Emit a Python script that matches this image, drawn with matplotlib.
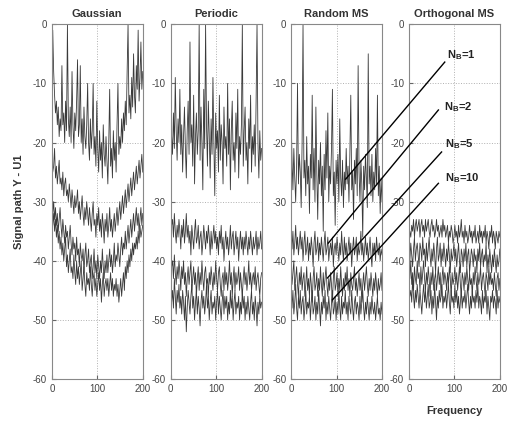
import numpy as np
import matplotlib
matplotlib.use("Agg")
import matplotlib.pyplot as plt

plt.rcParams['font.family'] = ['Liberation Sans', 'DejaVu Sans']
plt.rcParams['axes.unicode_minus'] = False
plt.rcParams['mathtext.fontset'] = 'custom'
plt.rcParams['mathtext.rm'] = 'Liberation Sans'
plt.rcParams['mathtext.bf'] = 'Liberation Sans:bold'

titles = ['Gaussian', 'Periodic', 'Random MS', 'Orthogonal MS']
nb_labels = ['1', '2', '5', '10']

# Gaussian (N_B = 1, 2, 5, 10), 100 samples over 0..200
G1 = [-5, -1, -8, -12, -15, -13, -17, -14, -19, -16,
      -18, -7, -17, -15, -20, -13, -18, 0, -16, -19,
      -14, -20, -8, -17, -21, -15, -18, -13, -6, -19,
      -17, -7, -20, -16, -22, -14, -19, -21, -17, -10,
      -20, -23, -16, -21, -18, -10, -22, -19, -24, -13,
      -21, -25, -18, -23, -20, -26, -17, -22, -24, -19,
      -23, -27, -20, -11, -24, -21, -26, -18, -23, -20,
      -25, -17, -10, -22, -19, -21, -16, -20, -15, -18,
      -13, -17, -8, 0, -15, -12, -16, -9, -14, -5,
      -12, -15, -7, -11, -1, -13, -9, -3, -11, -8]
G2 = [-22, -25, -24, -21, -26, -24, -27, -25, -23, -27,
      -26, -28, -25, -29, -27, -26, -29, -28, -30, -27,
      -29, -31, -28, -30, -32, -29, -31, -30, -28, -32,
      -30, -33, -31, -29, -32, -34, -31, -33, -30, -32,
      -34, -31, -33, -35, -32, -30, -34, -33, -36, -32,
      -34, -31, -35, -33, -36, -32, -34, -37, -33, -35,
      -32, -36, -34, -31, -35, -33, -36, -34, -32, -35,
      -33, -31, -34, -32, -30, -33, -31, -29, -32, -30,
      -28, -31, -29, -27, -30, -28, -26, -29, -27, -25,
      -28, -26, -24, -27, -25, -23, -26, -24, -22, -25]
G3 = [-29, -32, -30, -33, -31, -34, -32, -35, -33, -31,
      -34, -36, -33, -35, -37, -34, -36, -35, -38, -36,
      -34, -37, -39, -36, -38, -37, -40, -36, -39, -38,
      -41, -37, -39, -40, -38, -42, -39, -37, -41, -40,
      -38, -42, -40, -39, -43, -41, -38, -42, -40, -43,
      -39, -41, -43, -40, -42, -38, -41, -43, -40, -42,
      -39, -42, -40, -38, -41, -39, -42, -40, -37, -41,
      -39, -40, -37, -39, -41, -38, -36, -39, -37, -38,
      -35, -38, -36, -34, -37, -35, -33, -36, -34, -32,
      -35, -33, -31, -34, -32, -35, -33, -31, -34, -32]
G4 = [-31, -34, -32, -35, -33, -36, -34, -37, -35, -38,
      -36, -39, -37, -40, -38, -36, -41, -39, -42, -40,
      -38, -42, -41, -43, -39, -42, -44, -40, -43, -41,
      -44, -42, -40, -45, -43, -41, -44, -46, -42, -44,
      -43, -45, -41, -44, -46, -43, -42, -45, -43, -46,
      -44, -42, -45, -43, -47, -44, -42, -46, -44, -43,
      -45, -43, -46, -44, -42, -45, -43, -46, -44, -45,
      -43, -46, -44, -47, -45, -43, -46, -44, -42, -45,
      -41, -43, -40, -42, -39, -41, -38, -40, -37, -39,
      -37, -38, -36, -38, -35, -37, -34, -36, -35, -34]

# Periodic
P1 = [-24, -19, -22, -15, -21, -9, -18, -23, -16, -20,
      -11, -22, -17, -25, -19, -14, -21, -26, -18, -13,
      -22, -3, -20, -17, -24, -12, -27, -19, -15, -22,
      -18, 0, -23, -14, -20, -28, -11, -21, 0, -17,
      -24, -13, -19, -26, -16, -22, -9, -20, -29, -15,
      -21, -18, -25, -12, -23, -17, -20, -27, -14, -21,
      -19, -24, -10, -22, -16, -28, -18, -13, -23, -20,
      -25, -15, -21, -11, -26, -19, -22, -17, 0, -24,
      -18, -14, -23, -20, -27, -16, -21, -12, -25, -19,
      -22, -17, -24, -13, 0, -20, -26, -18, -23, -21]
P2 = [-31, -34, -33, -36, -32, -35, -37, -34, -36, -33,
      -35, -38, -34, -36, -33, -37, -35, -32, -36, -34,
      -37, -35, -39, -34, -36, -38, -35, -33, -37, -36,
      -34, -38, -36, -35, -39, -37, -34, -36, -38, -35,
      -37, -34, -36, -39, -35, -38, -36, -34, -37, -35,
      -38, -36, -39, -35, -37, -34, -38, -36, -40, -37,
      -35, -38, -36, -39, -37, -34, -38, -36, -35, -39,
      -37, -35, -38, -36, -40, -37, -35, -38, -36, -39,
      -36, -38, -35, -37, -39, -36, -38, -35, -37, -39,
      -36, -38, -37, -35, -39, -36, -38, -37, -35, -38]
P3 = [-38, -41, -40, -43, -39, -42, -44, -41, -43, -40,
      -42, -45, -41, -43, -40, -44, -42, -46, -43, -41,
      -44, -42, -40, -45, -43, -41, -44, -42, -46, -43,
      -41, -45, -42, -44, -40, -43, -45, -42, -41, -44,
      -43, -46, -42, -44, -41, -43, -45, -42, -44, -40,
      -43, -45, -42, -41, -44, -46, -43, -42, -45, -41,
      -44, -42, -45, -43, -40, -44, -42, -46, -43, -41,
      -45, -42, -44, -43, -41, -45, -42, -44, -46, -43,
      -41, -44, -42, -45, -43, -40, -44, -42, -45, -43,
      -42, -44, -41, -45, -43, -42, -44, -46, -43, -42]
P4 = [-44, -47, -45, -48, -43, -46, -49, -45, -47, -44,
      -48, -46, -49, -45, -47, -50, -46, -52, -48, -45,
      -47, -49, -46, -44, -48, -46, -50, -47, -45, -49,
      -46, -48, -51, -47, -45, -48, -46, -49, -47, -44,
      -48, -46, -50, -47, -45, -49, -47, -48, -46, -50,
      -47, -45, -49, -46, -48, -50, -47, -45, -49, -46,
      -48, -46, -50, -47, -49, -45, -48, -46, -50, -47,
      -45, -49, -47, -48, -46, -50, -47, -49, -45, -48,
      -46, -50, -47, -49, -46, -48, -50, -47, -45, -49,
      -47, -50, -46, -48, -51, -47, -49, -46, -48, -47]

# Random MS
R1 = [-15, -23, -28, -21, -26, -30, -24, -10, -27, -22,
      -25, -31, -20, 0, -26, -23, -29, -19, -27, -24,
      -32, -22, -26, -12, -28, -21, -30, -14, -25, -33,
      -23, -27, -20, -29, -24, -35, -22, -28, -18, -26,
      -15, -30, -24, -27, -21, -11, -29, -25, -34, -23,
      -27, -22, -30, -16, -26, -29, -23, -31, -25, -28,
      -21, -27, -24, -30, -22, -12, -28, -25, -33, -23,
      -27, -21, -29, -7, -25, -30, -23, -27, -36, -24,
      -28, -22, -26, -31, -5, -27, -24, -29, -22, -30,
      -25, -28, -21, -27, -12, -29, -24, -32, -26, -30]
R2 = [-36, -38, -35, -39, -37, -34, -38, -36, -39, -37,
      -35, -38, -36, -40, -37, -35, -39, -38, -36, -40,
      -37, -39, -36, -38, -41, -37, -35, -39, -38, -36,
      -40, -37, -39, -36, -38, -40, -37, -35, -39, -38,
      -36, -40, -38, -37, -39, -36, -41, -38, -37, -39,
      -36, -38, -40, -37, -39, -35, -38, -40, -36, -39,
      -37, -40, -38, -36, -39, -37, -41, -38, -36, -39,
      -38, -36, -40, -37, -39, -38, -35, -39, -37, -40,
      -38, -36, -39, -37, -40, -38, -36, -39, -41, -37,
      -39, -37, -40, -36, -38, -39, -37, -40, -38, -39]
R3 = [-41, -44, -42, -40, -45, -43, -41, -44, -46, -42,
      -44, -41, -45, -43, -42, -46, -44, -41, -45, -43,
      -46, -42, -44, -47, -43, -41, -45, -44, -42, -46,
      -43, -45, -41, -44, -46, -42, -45, -43, -41, -44,
      -46, -43, -45, -42, -44, -47, -43, -41, -45, -44,
      -42, -46, -43, -45, -41, -44, -46, -43, -45, -42,
      -44, -41, -45, -43, -46, -42, -44, -45, -43, -41,
      -45, -43, -46, -44, -42, -45, -43, -47, -44, -42,
      -45, -43, -41, -44, -46, -43, -45, -42, -44, -46,
      -43, -45, -42, -44, -46, -43, -45, -44, -42, -45]
R4 = [-46, -48, -45, -49, -47, -44, -48, -50, -46, -48,
      -45, -49, -47, -46, -50, -48, -45, -49, -47, -48,
      -46, -50, -47, -45, -49, -48, -46, -50, -47, -49,
      -45, -48, -51, -47, -49, -46, -48, -45, -50, -47,
      -49, -46, -48, -50, -47, -45, -49, -48, -46, -50,
      -47, -49, -45, -48, -50, -46, -49, -47, -48, -45,
      -49, -47, -50, -46, -48, -49, -45, -48, -50, -47,
      -46, -49, -47, -48, -50, -46, -49, -47, -45, -48,
      -50, -47, -49, -46, -48, -50, -47, -49, -46, -48,
      -49, -47, -50, -48, -46, -49, -48, -50, -47, -49]

# Orthogonal MS
O1 = [-37, -35, -36, -34, -35, -33, -36, -34, -33, -35,
      -34, -33, -36, -34, -33, -35, -34, -36, -33, -35,
      -34, -33, -35, -36, -34, -33, -35, -34, -36, -35,
      -33, -35, -34, -36, -35, -34, -36, -33, -35, -34,
      -36, -35, -34, -37, -35, -36, -34, -35, -37, -36,
      -34, -36, -35, -37, -34, -36, -35, -33, -36, -35,
      -37, -34, -36, -35, -37, -36, -34, -36, -35, -37,
      -35, -36, -34, -37, -36, -35, -37, -34, -36, -35,
      -37, -35, -36, -34, -37, -35, -36, -38, -35, -36,
      -34, -37, -35, -36, -38, -35, -36, -37, -35, -36]
O2 = [-38, -40, -37, -39, -41, -38, -36, -40, -38, -37,
      -39, -41, -37, -38, -40, -36, -39, -38, -41, -37,
      -40, -38, -36, -39, -41, -38, -40, -37, -39, -42,
      -38, -36, -40, -39, -37, -41, -38, -40, -37, -39,
      -41, -38, -40, -37, -39, -42, -38, -40, -39, -37,
      -40, -38, -41, -39, -37, -40, -42, -38, -39, -41,
      -38, -40, -37, -41, -39, -38, -42, -40, -38, -39,
      -41, -38, -40, -39, -42, -38, -40, -37, -41, -39,
      -38, -41, -39, -40, -37, -42, -39, -41, -38, -40,
      -42, -39, -41, -38, -40, -42, -39, -41, -40, -38]
O3 = [-41, -43, -40, -44, -42, -45, -41, -43, -44, -40,
      -43, -42, -45, -41, -44, -42, -40, -43, -45, -42,
      -44, -41, -43, -46, -42, -44, -41, -45, -43, -42,
      -45, -43, -41, -44, -42, -46, -43, -41, -44, -42,
      -43, -45, -42, -44, -41, -43, -46, -42, -44, -43,
      -41, -44, -42, -45, -43, -41, -44, -46, -42, -43,
      -45, -42, -44, -41, -43, -45, -42, -44, -43, -46,
      -42, -44, -41, -43, -45, -42, -44, -43, -41, -45,
      -43, -42, -44, -46, -42, -43, -45, -41, -44, -42,
      -44, -43, -45, -42, -44, -46, -43, -42, -45, -43]
O4 = [-44, -46, -45, -47, -43, -46, -48, -45, -47, -44,
      -46, -48, -45, -47, -49, -46, -44, -47, -45, -48,
      -46, -44, -48, -47, -45, -49, -46, -48, -44, -47,
      -50, -46, -48, -45, -47, -46, -44, -48, -46, -47,
      -45, -48, -46, -44, -47, -49, -45, -47, -46, -48,
      -44, -47, -45, -48, -46, -49, -47, -45, -48, -46,
      -47, -45, -48, -46, -44, -47, -49, -46, -48, -45,
      -47, -46, -48, -45, -47, -44, -48, -46, -47, -49,
      -45, -48, -46, -47, -45, -49, -46, -48, -50, -46,
      -47, -45, -48, -46, -47, -49, -45, -48, -46, -47]

panels = [[G1, G2, G3, G4], [P1, P2, P3, P4], [R1, R2, R3, R4], [O1, O2, O3, O4]]

# annotation geometry (data coords of the Random MS panel)
line_start_x = [338, 324, 331, 324]
line_start_y = [-6.4, -14.5, -21.6, -26.9]
line_end_x = [120, 82, 80, 91]
line_end_y = [-26.2, -37.0, -42.9, -46.6]
text_x = [342, 336, 338, 338]
text_y = [-5.3, -14.0, -20.3, -26.0]

fig = plt.figure(figsize=(5.08, 4.25), dpi=100)
lefts = [0.102, 0.336, 0.573, 0.805]
axes = []
for i, left in enumerate(lefts):
    ax = fig.add_axes([left, 0.108, 0.179, 0.835])
    for series in panels[i]:
        freq = np.linspace(0, 200, len(series))
        ax.plot(freq, series, color='#3a3a3a', lw=0.6)
    ax.set_xlim(0, 200)
    ax.set_ylim(-60, 0)
    ax.set_xticks([0, 100, 200])
    ax.set_yticks(range(-60, 1, 10))
    ax.grid(True, linestyle=':', color='#b0b0b0', lw=0.7)
    ax.tick_params(direction='in', length=3, labelsize=7, colors='#666666', labelcolor='#444444')
    for sp in ax.spines.values():
        sp.set_color('#888888')
        sp.set_linewidth(0.8)
    ax.set_title(titles[i], fontsize=8, fontweight='bold', color='#333333', pad=5)
    axes.append(ax)

axes[0].set_ylabel('Signal path Y - U1', fontsize=8, fontweight='bold', color='#333333', labelpad=6)
axes[3].set_xlabel('Frequency', fontsize=8, fontweight='bold', color='#333333', labelpad=9)

# pointer lines run from the Random MS curves over into the last panel
ax3 = axes[2]
ax3.set_zorder(10)
ax3.patch.set_visible(False)
for k in range(4):
    ax3.plot([line_start_x[k], line_end_x[k]], [line_start_y[k], line_end_y[k]],
             color='black', lw=1.0, clip_on=False, zorder=5)
    ax3.text(text_x[k], text_y[k], r'$\mathbf{N_B}$=' + nb_labels[k], fontsize=8,
             fontweight='bold', color='#222222', ha='left', va='center', clip_on=False)

fig.savefig('out.png', dpi=100)
